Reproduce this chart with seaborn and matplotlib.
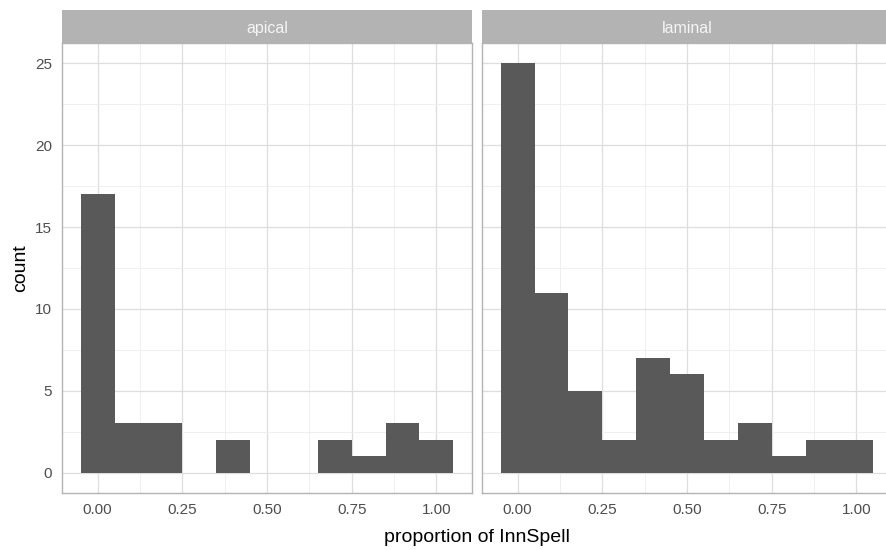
import numpy as np
import pandas as pd
import matplotlib
matplotlib.use("Agg")
import matplotlib.pyplot as plt
import seaborn as sns

# Data: histogram of proportion of InnSpell, binwidth 0.1, centred on 0.0 ... 1.0
bin_centers = [0.0, 0.1, 0.2, 0.3, 0.4, 0.5, 0.6, 0.7, 0.8, 0.9, 1.0]
apical_counts = [17, 3, 3, 0, 2, 0, 0, 2, 1, 3, 2]
laminal_counts = [25, 11, 5, 2, 7, 6, 2, 3, 1, 2, 2]
facets = ["apical", "laminal"]
x_ticks = [0.0, 0.25, 0.5, 0.75, 1.0]
x_tick_labels = ["0.00", "0.25", "0.50", "0.75", "1.00"]
y_ticks = [0, 5, 10, 15, 20, 25]

df = pd.DataFrame({
    "x": bin_centers * 2,
    "count": apical_counts + laminal_counts,
    "facet": ["apical"] * len(bin_centers) + ["laminal"] * len(bin_centers),
})

sns.set_theme(style="white")
plt.rcParams["font.family"] = ["Liberation Sans", "DejaVu Sans"]

W, H = 886, 550
fig = plt.figure(figsize=(W / 100, H / 100), dpi=100)

panels = [(62, 472), (482, 892)]
top_px, bot_px = 43, 493
strip_top = 10

xlim = (-0.05 - 0.055, 1.05 + 0.055)
ylim = (-1.25, 26.25)

border_c = "#B3B3B3"
grid_c = "#DEDEDE"
grid_minor_c = "#EDEDED"
text_c = "#4D4D4D"

for i, (name, (l, r)) in enumerate(zip(facets, panels)):
    ax = fig.add_axes([l / W, 1 - bot_px / H, (r - l) / W, (bot_px - top_px) / H])
    sub = df[df["facet"] == name].reset_index(drop=True)
    sns.histplot(data=sub, x="x", weights="count", binwidth=0.1,
                 binrange=(-0.05, 1.05), ax=ax,
                 color="#595959", alpha=1, edgecolor="none", linewidth=0)
    ax.set_xticks(x_ticks)
    ax.set_xticklabels(x_tick_labels)
    ax.set_yticks(y_ticks)
    ax.set_xticks([0.125, 0.375, 0.625, 0.875], minor=True)
    ax.set_yticks([2.5, 7.5, 12.5, 17.5, 22.5], minor=True)
    ax.set_xlim(*xlim)
    ax.set_ylim(*ylim)
    ax.grid(True, which="major", color=grid_c, linewidth=0.9, zorder=0)
    ax.grid(True, which="minor", color=grid_minor_c, linewidth=0.6, zorder=0)
    ax.set_axisbelow(True)
    for s in ax.spines.values():
        s.set_color(border_c)
        s.set_linewidth(1.0)
    ax.tick_params(axis="both", which="major", colors=border_c, labelcolor=text_c,
                   labelsize=11, length=4, width=0.8, pad=3)
    ax.tick_params(axis="both", which="minor", length=0)
    ax.set_xlabel("")
    ax.set_ylabel("")
    if i == 1:
        ax.tick_params(axis="y", which="major", left=False, labelleft=False)
    # strip
    sax = fig.add_axes([l / W, 1 - top_px / H, (r - l) / W, (top_px - strip_top) / H])
    sax.set_facecolor(border_c)
    sax.set_xticks([])
    sax.set_yticks([])
    for s in sax.spines.values():
        s.set_visible(False)
    sax.text(0.5, 0.45, name, color="#F5F5F5", fontsize=11.5, ha="center", va="center",
             transform=sax.transAxes)

fig.text(477 / W, 1 - 537 / H, "proportion of InnSpell", ha="center", va="center",
         fontsize=14, color="black")
fig.text(21 / W, 1 - 268 / H, "count", ha="center", va="center", rotation=90,
         fontsize=14, color="black")

fig.savefig("out.png", dpi=100)
